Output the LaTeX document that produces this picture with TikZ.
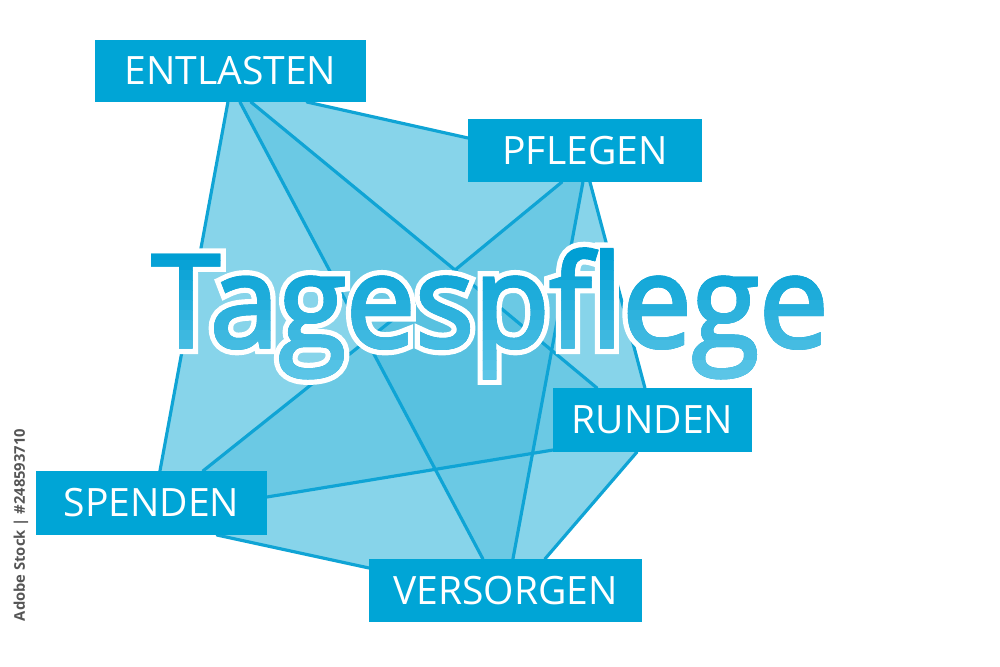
\documentclass[tikz,border=0pt]{standalone}
\usepackage{fontspec}
\setmainfont{Open Sans}
\newfontfamily\titlefill[FakeBold=2.6,FakeStretch=0.96]{Open Sans}
\newfontfamily\titleline[FakeBold=11,FakeStretch=0.96]{Open Sans}
\usetikzlibrary{calc}
\definecolor{boxblue}{HTML}{00A5D6}
\definecolor{lineblue}{HTML}{0FA4D5}
\definecolor{fillL}{HTML}{87D4EA}
\definecolor{fillM}{HTML}{6BC9E4}
\definecolor{fillD}{HTML}{58C1E0}
\definecolor{tdark}{HTML}{009FD4}
\definecolor{tlight}{HTML}{62C8E8}
\definecolor{stockgray}{HTML}{555555}
\pgfdeclarelayer{bg}
\pgfsetlayers{bg,main}
\tikzset{
  lbl/.style={fill=boxblue, text=white, font=\fontsize{11.1}{12}\selectfont,
    inner sep=0pt, outer sep=0pt, text height=7.9pt, text depth=0pt},
  conn/.style={draw=lineblue, line width=0.9pt, line cap=round},
  ttl/.style={anchor=base, inner sep=0pt, font={\titlefill\fontsize{36.5}{40}\selectfont}}
}
\begin{document}
\begin{tikzpicture}[x=0.01cm,y=-0.01cm]
\useasboundingbox (0,0) rectangle (1000,667);
% label boxes
\node[lbl, minimum width=2.71cm, minimum height=0.62cm] (E) at (230.5,71) {ENTLASTEN};
\node[lbl, minimum width=2.34cm, minimum height=0.63cm] (P) at (585,150.5) {PFLEGEN};
\node[lbl, minimum width=1.99cm, minimum height=0.64cm] (R) at (652.5,420) {RUNDEN};
\node[lbl, minimum width=2.31cm, minimum height=0.64cm] (S) at (151.5,503) {SPENDEN};
\node[lbl, minimum width=2.73cm, minimum height=0.63cm] (V) at (505.5,590.5) {VERSORGEN};
% attachment points
\coordinate (e1) at ($(E.south west)+(133,0)$);
\coordinate (e2) at ($(E.south west)+(145,0)$);
\coordinate (e3) at ($(E.south west)+(156,0)$);
\coordinate (e4) at ($(E.south west)+(212,0)$);
\coordinate (p1) at ($(P.north west)+(0,19)$);
\coordinate (p2) at ($(P.south west)+(94,0)$);
\coordinate (p3) at ($(P.south west)+(115,0)$);
\coordinate (p4) at ($(P.south west)+(122,0)$);
\coordinate (c) at (455,270);
\coordinate (r1) at ($(R.north west)+(44,0)$);
\coordinate (r2) at ($(R.north west)+(92,0)$);
\coordinate (r3) at ($(R.south west)+(0,-2)$);
\coordinate (r4) at ($(R.south west)+(84,0)$);
\coordinate (v1) at ($(V.north west)+(114,0)$);
\coordinate (v2) at ($(V.north west)+(144,0)$);
\coordinate (v3) at ($(V.north west)+(176,0)$);
\coordinate (v4) at ($(V.north west)+(0,9)$);
\coordinate (s1) at ($(S.north west)+(124,0)$);
\coordinate (s2) at ($(S.north west)+(167,0)$);
\coordinate (s3) at ($(S.north east)+(0,26)$);
\coordinate (s4) at ($(S.south west)+(181,0)$);
\coordinate (X) at (intersection of e2--v1 and s2--c);
\coordinate (Y) at (intersection of e2--v1 and s3--r3);
\coordinate (Z) at (intersection of c--r1 and p3--v2);
\coordinate (W) at (intersection of s3--r3 and p3--v2);
\begin{pgfonlayer}{bg}
  \fill[fillL] (s1) -- (e1) -- (e4) -- (p1) -- (p4) -- (r2) -- (r4) -- (v3) -- (v4) -- (s4) -- cycle;
  \fill[fillM] (e2) -- (e3) -- (c) -- (X) -- cycle;
  \fill[fillM] (p2) -- (p3) -- (Z) -- (c) -- cycle;
  \fill[fillM] (s2) -- (X) -- (Y) -- (s3) -- (S.north east) -- cycle;
  \fill[fillM] (Y) -- (W) -- (v2) -- (v1) -- cycle;
  \fill[fillM] (Z) -- (W) -- (r3) -- (R.north west) -- (r1) -- cycle;
  \fill[fillD] (c) -- (X) -- (Y) -- (W) -- (Z) -- cycle;
  % connectors
  \draw[conn] (e1) -- (s1);
  \draw[conn] (e2) -- (v1);
  \draw[conn] (e3) -- (c);
  \draw[conn] (e4) -- (p1);
  \draw[conn] (p2) -- (c);
  \draw[conn] (p3) -- (v2);
  \draw[conn] (p4) -- (r2);
  \draw[conn] (c) -- (r1);
  \draw[conn] (c) -- (s2);
  \draw[conn] (s3) -- (r3);
  \draw[conn] (r4) -- (v3);
  \draw[conn] (s4) -- (v4);
\end{pgfonlayer}
% title: white outline underlay, then blue text with a vertical gradient
\node[ttl, text=white, font={\titleline\fontsize{36.5}{40}\selectfont}] (halo) at (490,347) {Tagespflege};
\node[ttl, text=tdark] (title) at (490,347) {Tagespflege};
\foreach \i in {0,...,13} {
  \pgfmathsetmacro\yt{250+\i*10}
  \pgfmathtruncatemacro\pc{100-\i*100/13}
  \begin{scope}
    \clip (100,\yt) rectangle (900,\yt+10.5);
    \node[ttl, text=tdark!\pc!tlight] (title\i) at (490,347) {Tagespflege};
  \end{scope}
}
% side text
\node[rotate=90, text=stockgray, inner sep=0pt, font=\fontsize{4.2}{5}\selectfont\bfseries] (stock) at (21,525) {Adobe Stock | \#248593710};
\end{tikzpicture}
\end{document}
